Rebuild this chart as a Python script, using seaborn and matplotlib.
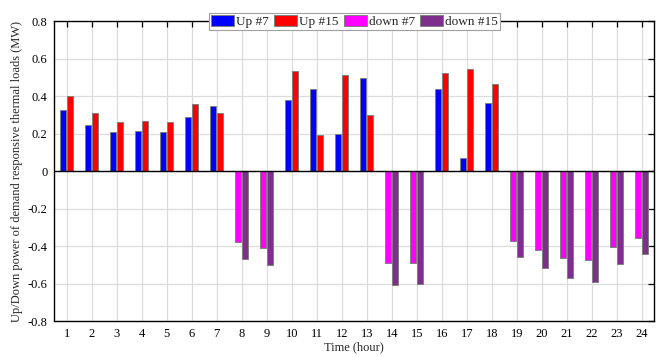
import numpy as np
import pandas as pd
import matplotlib
matplotlib.use("Agg")
import matplotlib.pyplot as plt
from matplotlib.patches import Patch
import seaborn as sns

hours = list(range(1, 25))
up_hours = [1, 2, 3, 4, 5, 6, 7, 10, 11, 12, 13, 16, 17, 18]
up7 = [0.324, 0.248, 0.207, 0.213, 0.207, 0.287, 0.349, 0.379, 0.435, 0.197, 0.498, 0.435, 0.067, 0.362]
up15 = [0.400, 0.310, 0.259, 0.266, 0.259, 0.358, 0.309, 0.532, 0.190, 0.514, 0.300, 0.521, 0.544, 0.463]
down_hours = [8, 9, 14, 15, 19, 20, 21, 22, 23, 24]
down7 = [-0.376, -0.408, -0.493, -0.488, -0.372, -0.419, -0.463, -0.477, -0.403, -0.358]
down15 = [-0.468, -0.503, -0.610, -0.604, -0.461, -0.518, -0.573, -0.592, -0.498, -0.443]
series_labels = ["Up #7", "Up #15", "down #7", "down #15"]
colors = ["#0000FF", "#FF0000", "#FF00FF", "#7E2F8E"]

up_df = pd.DataFrame({
    "hour": up_hours * 2,
    "value": up7 + up15,
    "unit": ["#7"] * len(up_hours) + ["#15"] * len(up_hours),
})
down_df = pd.DataFrame({
    "hour": down_hours * 2,
    "value": down7 + down15,
    "unit": ["#7"] * len(down_hours) + ["#15"] * len(down_hours),
})

sns.set_theme(style="white")
plt.rcParams["font.family"] = ["Liberation Serif", "DejaVu Serif"]

fig = plt.figure(figsize=(6.7, 3.57), dpi=100)
ax = fig.add_axes([54.3 / 670, 1 - 321 / 357, 600 / 670, 300 / 357])

common = dict(x="hour", y="value", hue="unit", order=hours, hue_order=["#7", "#15"],
              width=0.56, gap=0.18, edgecolor="#808080", linewidth=0.7,
              saturation=1, legend=False, ax=ax, errorbar=None)
sns.barplot(data=up_df, palette=[colors[0], colors[1]], **common)
sns.barplot(data=down_df, palette=[colors[2], colors[3]], **common)

ax.set_xlim(-0.5, 23.5)
ax.set_ylim(-0.8, 0.8)
ax.set_yticks(np.arange(-0.8, 0.81, 0.2))
ax.set_yticklabels(["-0.8", "-0.6", "-0.4", "-0.2", "0", "0.2", "0.4", "0.6", "0.8"])
ax.set_xticks(range(24))
ax.set_xticklabels([str(h) for h in hours])
ax.grid(True, color="#dcdcdc", linewidth=0.9)
ax.set_axisbelow(True)
ax.axhline(0, color="black", linewidth=1.0, zorder=3)
for s in ax.spines.values():
    s.set_color("black")
    s.set_linewidth(1.0)
ax.tick_params(direction="in", length=4, width=0.9, top=True, right=True,
               labelsize=9, colors="black", pad=5)
ax.set_xlabel("Time (hour)", fontsize=9, labelpad=1)
ax.set_ylabel("Up/Down power of demand responsive thermal loads (MW)", fontsize=9, labelpad=3)

handles = [Patch(facecolor=c, edgecolor="#808080", linewidth=0.7) for c in colors]
leg = ax.legend(handles, series_labels, ncol=4, loc="upper center",
                bbox_to_anchor=(0.5, 1.026), fontsize=9.5, frameon=True,
                fancybox=False, edgecolor="#a0a0a0", framealpha=1,
                handlelength=1.75, handleheight=0.9, handletextpad=0.15,
                columnspacing=0.4, borderpad=0.15, borderaxespad=0)
leg.get_frame().set_linewidth(0.8)

fig.savefig("out.png", dpi=100)
